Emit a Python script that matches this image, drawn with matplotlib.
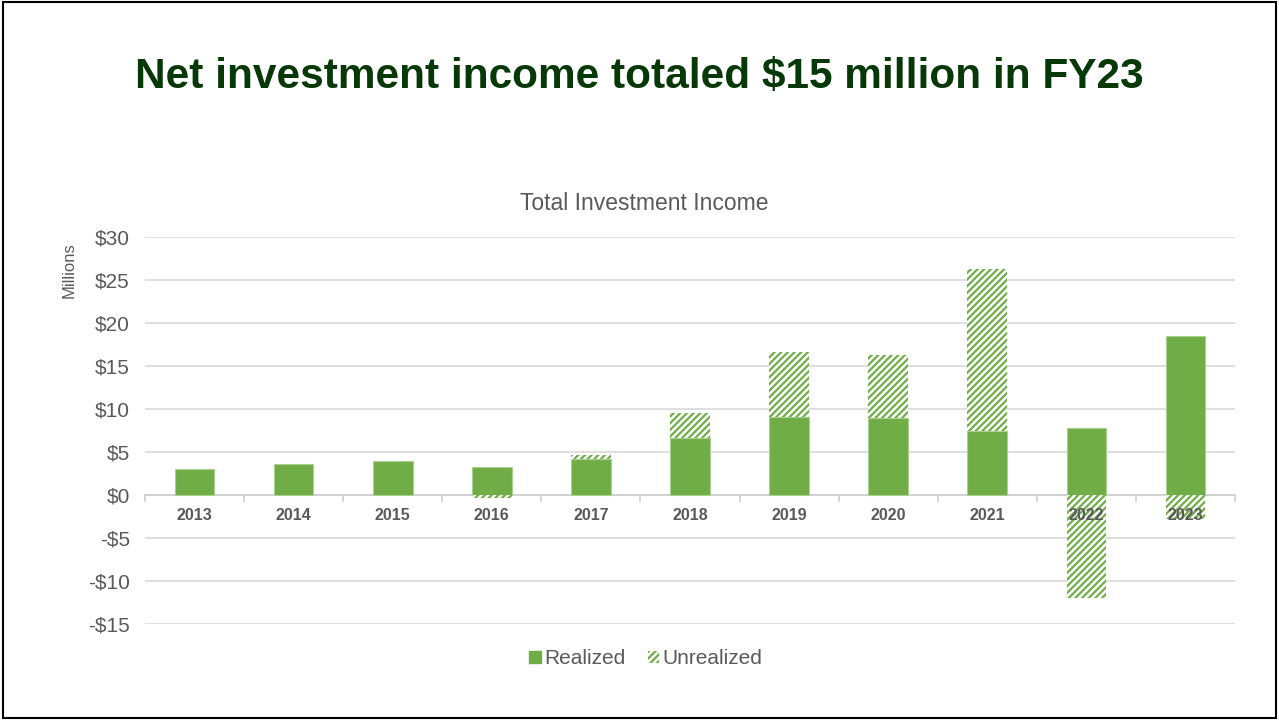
import matplotlib.pyplot as plt
from matplotlib.patches import Patch, Rectangle
import numpy as np

plt.rcParams['font.family'] = ['Liberation Sans', 'DejaVu Sans']
plt.rcParams['hatch.linewidth'] = 1.6

years = ['2013', '2014', '2015', '2016', '2017', '2018',
         '2019', '2020', '2021', '2022', '2023']
realized = [3.0, 3.6, 3.95, 3.25, 4.2, 6.6, 9.05, 8.95, 7.45, 7.8, 18.5]
unrealized = [0.0, 0.0, 0.0, -0.3, 0.45, 2.9, 7.55, 7.35, 18.8, -12.0, -2.8]

green = '#70AD47'
grey = '#595959'
hatch = '/////'

fig = plt.figure(figsize=(12.79, 7.21), dpi=100)
fig.patches.append(Rectangle((0.002, 0.004), 0.996, 0.993, transform=fig.transFigure,
                             fill=False, edgecolor='black', linewidth=1.5))
fig.text(0.5, 0.893, 'Net investment income totaled $15 million in FY23',
         ha='center', va='center', fontsize=30.5, fontweight='bold', color='#073807')
fig.text(0.504, 0.718, 'Total Investment Income', ha='center', va='center',
         fontsize=16.5, color=grey)

ax = fig.add_axes([0.1134, 0.1345, 0.8522, 0.5368])
x = np.arange(len(years))
real = np.array(realized)
unreal = np.array(unrealized)

ax.bar(x, real, width=0.4, color=green, edgecolor='#A9D08E', linewidth=0.8, zorder=3)
# unrealized gains sit on top of realized, losses hang below zero
base = np.where(unreal >= 0, real, 0)
ax.bar(x, unreal, bottom=base, width=0.4, color='white', edgecolor=green,
       hatch=hatch, linewidth=0, zorder=3)

ax.set_ylim(-15, 30)
ax.set_xlim(-0.5, len(years) - 0.5)
ax.set_yticks(np.arange(-15, 31, 5))
ax.set_yticklabels([f'${v}' if v >= 0 else f'-${-v}' for v in range(-15, 31, 5)])
ax.grid(axis='y', color='#D9D9D9', linewidth=1.2, zorder=0)
ax.tick_params(axis='y', length=0, labelsize=15, labelcolor=grey, pad=11)

for s in ['left', 'right', 'top']:
    ax.spines[s].set_visible(False)
ax.spines['bottom'].set_position(('data', 0))
ax.spines['bottom'].set_color('#D0D0D0')
ax.spines['bottom'].set_linewidth(1.2)
ax.set_xticks(x)
ax.set_xticklabels([])
ax.set_xticks(np.arange(-0.5, len(years), 1), minor=True)
ax.tick_params(axis='x', which='major', length=0)
ax.tick_params(axis='x', which='minor', length=5, color='#D0D0D0', width=1.2)

# year labels drawn above the bars so the negative hatches don't hide them
for xi, yr in zip(x, years):
    ax.annotate(yr, (xi, 0), xytext=(0, -14.5), textcoords='offset points',
                ha='center', va='center', fontsize=11.5, fontweight='bold',
                color=grey, zorder=6)

fig.text(0.054, 0.625, 'Millions', rotation=90, ha='center', va='center',
         fontsize=12, color=grey)

handles = [Patch(facecolor=green, edgecolor=green, label='Realized'),
           Patch(facecolor='white', edgecolor=green, hatch=hatch, linewidth=0,
                 label='Unrealized')]
fig.legend(handles=handles, loc='center', bbox_to_anchor=(0.505, 0.086), ncol=2,
           frameon=False, fontsize=15, handlelength=0.55, handleheight=0.55,
           handletextpad=0.15, columnspacing=1.1, labelcolor=grey)

fig.savefig('out.png', dpi=100)
